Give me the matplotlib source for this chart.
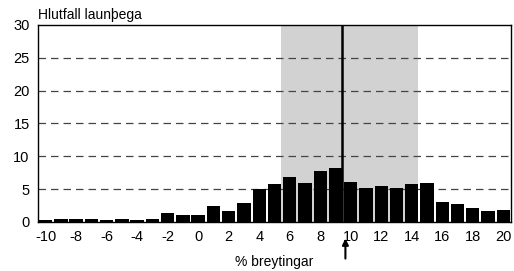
import matplotlib.pyplot as plt

# hlutfall launþega eftir % breytingu launa
breyting = list(range(-10, 21))
hlutfall = [0.3, 0.5, 0.5, 0.5, 0.3, 0.45, 0.25, 0.45, 1.35, 1.1, 1.1,
            2.4, 1.7, 2.9, 5.0, 5.85, 6.9, 5.95, 7.7, 8.2, 6.05,
            5.1, 5.4, 5.1, 5.75, 5.9, 3.1, 2.7, 2.2, 1.65, 1.75]
x_ticks = list(range(-10, 21, 2))
y_ticks = [0, 5, 10, 15, 20, 25, 30]
bil = (5.4, 14.4)
midja = 9.4

plt.rcParams['font.family'] = ['Liberation Sans', 'DejaVu Sans']
plt.rcParams['axes.unicode_minus'] = False

fig = plt.figure(figsize=(5.14, 2.71), dpi=100)
ax = fig.add_axes([0.074, 0.181, 0.92, 0.727])

ax.axvspan(bil[0], bil[1], color='#d2d2d2', zorder=0, lw=0)
for y in y_ticks[1:-1]:
    ax.axhline(y, color='#444444', lw=0.9, ls=(0, (6, 4)), zorder=1)
ax.bar(breyting, hlutfall, width=0.88, color='black', zorder=2)
ax.axvline(midja, color='black', lw=1.8, zorder=3)

ax.set_xlim(-10.5, 20.5)
ax.set_ylim(0, 30)
ax.set_xticks(x_ticks)
ax.set_yticks(y_ticks)
ax.tick_params(length=0, labelsize=10.5, pad=6)
for s in ax.spines.values():
    s.set_linewidth(1.0)

ax.set_xlabel('% breytingar', fontsize=10, labelpad=8)
ax.text(0, 1.015, 'Hlutfall launþega', transform=ax.transAxes,
        fontsize=10, ha='left', va='bottom')

ax.annotate('', xy=(9.65, -0.07), xytext=(9.65, -0.2),
            xycoords=('data', 'axes fraction'),
            arrowprops=dict(arrowstyle='-|>', color='black', lw=1.5,
                            mutation_scale=9),
            annotation_clip=False)

fig.savefig('out.png', dpi=100)
